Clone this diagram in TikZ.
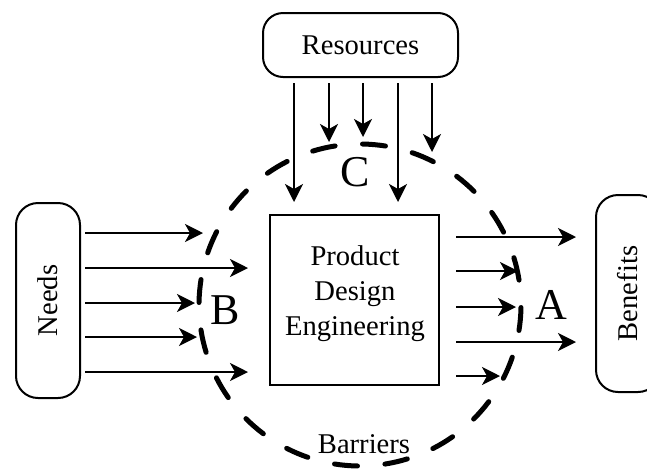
\documentclass[tikz,border=0pt]{standalone}
\usepackage{fontspec}
\usepackage{graphicx}
\setmainfont{Liberation Serif}
\usetikzlibrary{arrows.meta}
\begin{document}
\begin{tikzpicture}[x=0.5pt,y=0.5pt,
  lbl/.style={font=\fontsize{14.3}{17.5}\selectfont},
  tag/.style={font=\fontsize{22}{26}\selectfont, inner sep=0pt},
  pill/.style={draw, line width=1pt, inner sep=0pt, lbl},
  arr/.style={line width=1pt, -{Stealth[length=9pt,width=9pt,inset=2.5pt]}},
  barrier/.style={line width=2.5pt, line cap=round}]
\clip (0,0) rectangle (647,468);

% boxes
\node[pill, rounded corners=10pt, minimum width=97.5pt, minimum height=32pt] (res) at (360.5,423) {Resources};
\node[pill, rounded corners=11pt, minimum width=32pt, minimum height=97.5pt] (needs) at (48,167.5) {\rotatebox{90}{Needs}};
\node[pill, rounded corners=11pt, minimum width=32pt, minimum height=98.5pt] (ben) at (628,174.5) {\rotatebox{90}{Benefits}};
\node[draw, line width=1pt, minimum width=84.5pt, minimum height=85pt] (pde) at (354.5,168) {};
\node[lbl, align=center] (pdetxt) at (355,174) {Product\\Design\\Engineering};

% barrier ring
\coordinate (ctr) at (360,163);
\foreach \a in {13,31,...,355}
  \draw[barrier] ([shift={({\a-4.1}:161)}]ctr) arc[start angle=\a-4.1, end angle=\a+4.1, radius=161];

% labels
\node[tag] (lc) at (355,296) {C};
\node[tag] (lb) at (225,158) {B};
\node[tag] (la) at (551,163) {A};
\node[lbl] (bar) at (364,24) {Barriers};

% resource flows
\foreach \x/\t [count=\i] in {294/266,329/326,363/331,398/266,432/316} {
  \coordinate (r\i) at (\x,\t);
  \draw[arr, shorten <=2.5pt] (res.south -| r\i) -- (r\i);
}
% need flows
\foreach \y/\t [count=\i] in {235/203,200/248,165/195,131/197,96/248} {
  \coordinate (n\i) at (\t,\y);
  \draw[arr, shorten <=2pt] (needs.east |- n\i) -- (n\i);
}
% benefit flows
\foreach \y/\t [count=\i] in {231/576,197/518,161/516,126/576,92/500} {
  \coordinate (b\i) at (\t,\y);
  \draw[arr, shorten <=8pt] (pde.east |- b\i) -- (b\i);
}
\end{tikzpicture}
\end{document}
